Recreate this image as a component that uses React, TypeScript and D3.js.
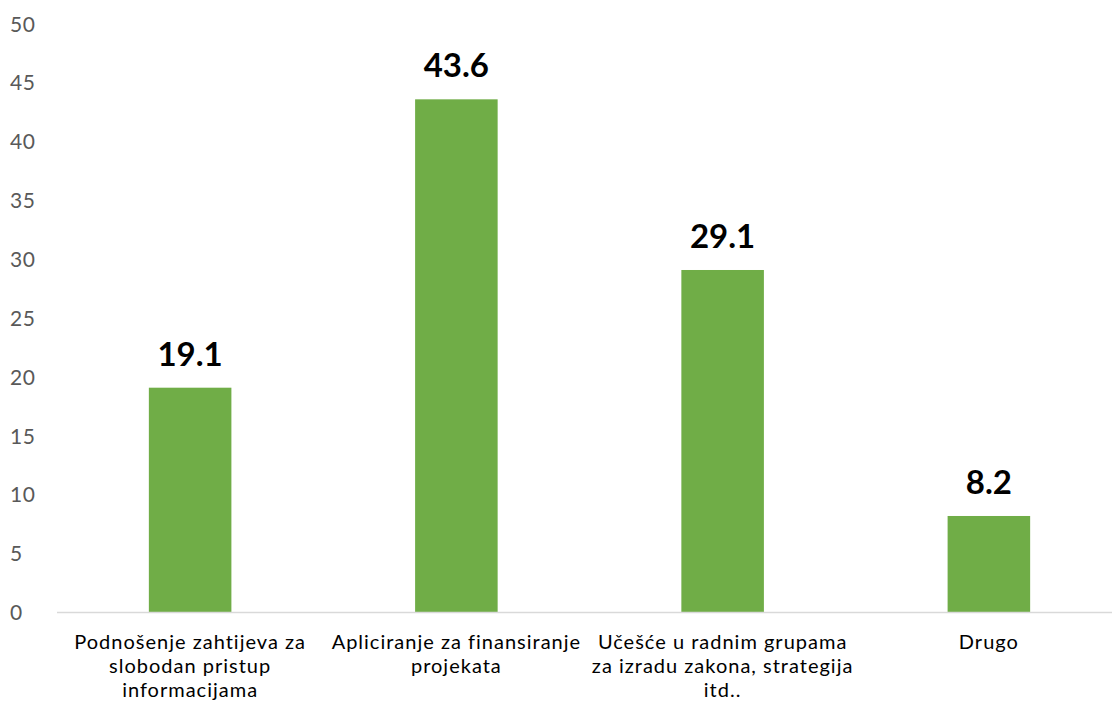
import * as d3 from 'd3'
import { useEffect, useRef } from 'react'

const categories = ['Podnošenje', 'Apliciranje', 'Učešće', 'Drugo']
const categoryLines = [
    ['Podnošenje zahtijeva za', 'slobodan pristup', 'informacijama'],
    ['Apliciranje za finansiranje', 'projekata'],
    ['Učešće u radnim grupama', 'za izradu zakona, strategija', 'itd..'],
    ['Drugo'],
]
const values = [19.1, 43.6, 29.1, 8.2]
const yTicks = [0, 5, 10, 15, 20, 25, 30, 35, 40, 45, 50]

export default function App() {
    const svgRef = useRef<SVGSVGElement>(null)

    useEffect(() => {
        makeChart(svgRef)
    }, [])

    function makeChart(svgRef: React.RefObject<SVGSVGElement>) {
        const width = 1112
        const height = 711
        const font = 'Lato, "Open Sans", sans-serif'

        const svg = d3.select(svgRef.current).attr('width', width).attr('height', height)
        svg.selectAll('*').remove()

        const x = d3.scaleBand<string>()
            .domain(categories)
            .range([57, 1122])
            .paddingInner(0.69)
            .paddingOuter(0.345)

        const y = d3.scaleLinear().domain([0, 50]).range([612.5, 24])

        // y tick labels (left aligned, no gridlines)
        svg.append('g')
            .selectAll('text')
            .data(yTicks)
            .enter()
            .append('text')
            .attr('x', 10)
            .attr('y', d => y(d))
            .attr('dy', '0.36em')
            .attr('font-family', font)
            .attr('font-size', 21)
            .attr('letter-spacing', 0.5)
            .attr('fill', '#595959')
            .text(d => d)

        // bars
        svg.append('g')
            .selectAll('rect')
            .data(values)
            .enter()
            .append('rect')
            .attr('x', (d, i) => x(categories[i])!)
            .attr('y', d => y(d))
            .attr('width', x.bandwidth())
            .attr('height', d => y(0) - y(d))
            .attr('fill', '#70ad47')

        // baseline
        svg.append('line')
            .attr('x1', 57)
            .attr('x2', width)
            .attr('y1', y(0))
            .attr('y2', y(0))
            .attr('stroke', '#d9d9d9')
            .attr('stroke-width', 1.5)

        // value labels
        svg.append('g')
            .selectAll('text')
            .data(values)
            .enter()
            .append('text')
            .attr('x', (d, i) => x(categories[i])! + x.bandwidth() / 2)
            .attr('y', d => y(d) - 22)
            .attr('text-anchor', 'middle')
            .attr('font-family', font)
            .attr('font-size', 33)
            .attr('font-weight', 'bold')
            .attr('fill', '#000')
            .text(d => d.toFixed(1))

        // category labels
        const cat = svg.append('g')
            .selectAll('text')
            .data(categoryLines)
            .enter()
            .append('text')
            .attr('x', (d, i) => x(categories[i])! + x.bandwidth() / 2)
            .attr('y', 649)
            .attr('text-anchor', 'middle')
            .attr('font-family', font)
            .attr('font-size', 20)
            .attr('letter-spacing', 1)
            .attr('fill', '#000')

        cat.selectAll('tspan')
            .data(d => d)
            .enter()
            .append('tspan')
            .attr('x', function () { return (this.parentNode as SVGTextElement).getAttribute('x') })
            .attr('dy', (d, i) => i === 0 ? 0 : 24)
            .text(d => d)
    }

    return (
        <svg ref={svgRef} style={{ position: 'absolute', left: 0, top: 0 }}></svg>
    )
}
